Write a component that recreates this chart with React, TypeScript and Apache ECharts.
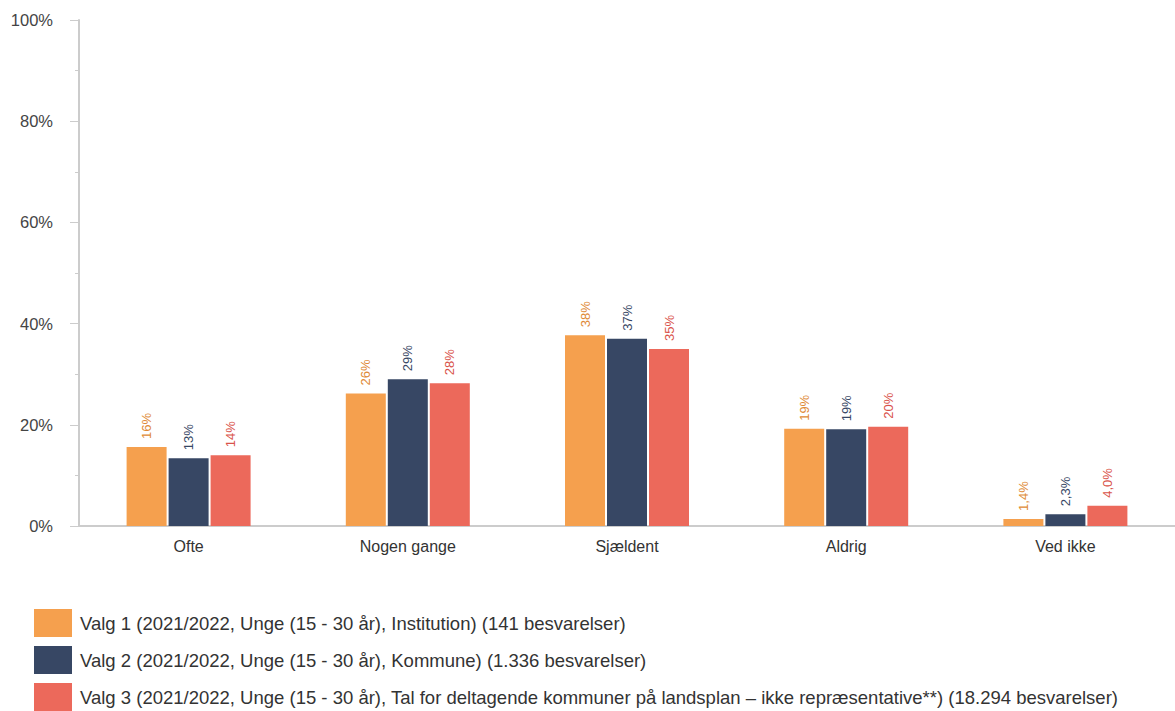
import React, { useEffect, useRef } from "react";
import * as echarts from "echarts";

const categories = ["Ofte", "Nogen gange", "Sjældent", "Aldrig", "Ved ikke"];
const seriesNames = [
  "Valg 1 (2021/2022, Unge (15 - 30 år), Institution) (141 besvarelser)",
  "Valg 2 (2021/2022, Unge (15 - 30 år), Kommune) (1.336 besvarelser)",
  "Valg 3 (2021/2022, Unge (15 - 30 år), Tal for deltagende kommuner på landsplan – ikke repræsentative**) (18.294 besvarelser)",
];
const valg1 = [15.6, 26.2, 37.7, 19.2, 1.4];
const valg2 = [13.4, 29.0, 37.0, 19.1, 2.3];
const valg3 = [14.0, 28.2, 35.0, 19.6, 4.0];
const colors = ["#F5A04E", "#374764", "#EC695B"];
const labelColors = ["#E08A36", "#374764", "#D9534A"];

function fmt(v: number): string {
  if (v < 10) return v.toFixed(1).replace(".", ",") + "%";
  return Math.round(v) + "%";
}

export default function App() {
  const ref = useRef<HTMLDivElement>(null);
  useEffect(() => {
    if (!ref.current) return;
    const chart = echarts.init(ref.current, undefined, { renderer: "svg" });
    const data = [valg1, valg2, valg3];
    chart.setOption({
      animation: false,
      textStyle: { fontFamily: "Liberation Sans, Arial, sans-serif" },
      grid: { left: 79, right: -6, top: 20, bottom: 204 },
      legend: {
        orient: "vertical",
        left: 34,
        top: 609,
        padding: 0,
        itemWidth: 38,
        itemHeight: 28,
        itemGap: 9,
        icon: "rect",
        textStyle: { fontSize: 18.5, color: "#333", padding: [0, 0, 0, 3] },
        data: seriesNames,
      },
      xAxis: {
        type: "category",
        data: categories,
        axisLine: { lineStyle: { color: "#cccccc", width: 2 } },
        axisTick: { show: false },
        axisLabel: { fontSize: 16, color: "#333", margin: 12 },
      },
      yAxis: {
        type: "value",
        min: 0,
        max: 100,
        interval: 20,
        axisLine: { show: true, lineStyle: { color: "#cccccc", width: 2 } },
        axisTick: { show: true, length: 9, lineStyle: { color: "#cccccc", width: 1 } },
        minorTick: { show: true, splitNumber: 2, length: 4, lineStyle: { color: "#cccccc" } },
        splitLine: { show: false },
        axisLabel: {
          fontSize: 16.5,
          color: "#444",
          margin: 26,
          formatter: (v: number) => v + "%",
        },
      },
      series: data.map((d, i) => ({
        name: seriesNames[i],
        type: "bar",
        data: d,
        barWidth: 40,
        barGap: "5%",
        itemStyle: { color: colors[i] },
        label: {
          show: true,
          position: "top",
          rotate: 90,
          align: "left",
          verticalAlign: "middle",
          distance: 8,
          fontSize: 13,
          color: labelColors[i],
          formatter: (p: any) => fmt(p.value),
        },
      })),
    });
    return () => chart.dispose();
  }, []);
  return (
    <div
      ref={ref}
      style={{ position: "fixed", left: 0, top: 0, width: 1175, height: 730, background: "#fff" }}
    />
  );
}
